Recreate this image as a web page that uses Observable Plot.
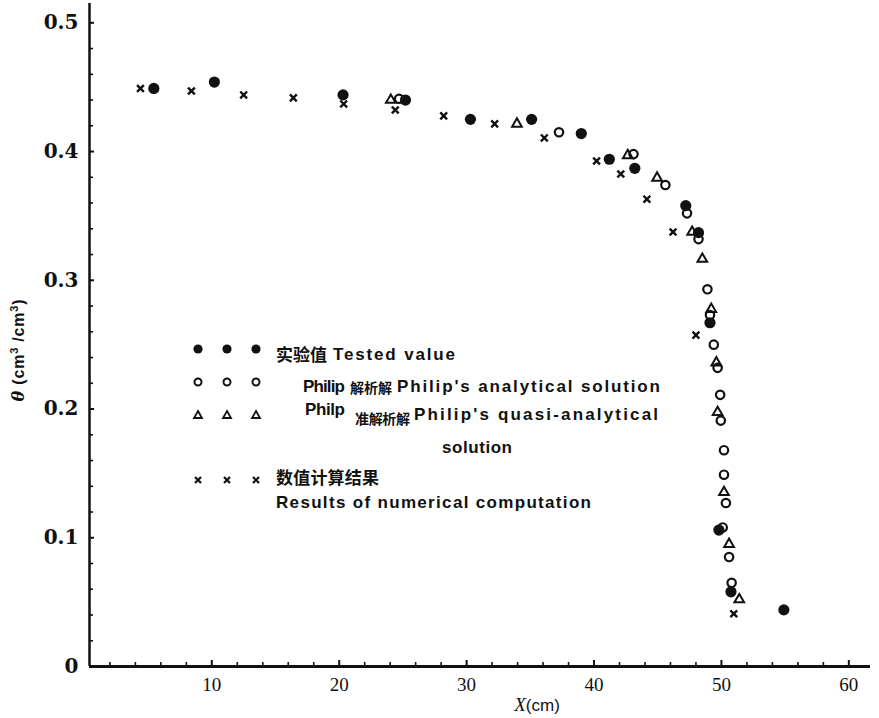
<!DOCTYPE html>
<html><head><meta charset="utf-8">
<script src="https://cdn.jsdelivr.net/npm/d3@7"></script>
<script src="https://cdn.jsdelivr.net/npm/@observablehq/plot@0.6"></script>
<style>
body{margin:0;background:#fff;}
#wrap{width:879px;height:718px;}
</style></head><body><div id="wrap"></div>
<script>
// Tested value (filled circles)
const testedX = [5.45, 10.2, 20.3, 25.2, 30.3, 35.1, 39.0, 41.2, 43.2, 47.2, 48.2, 49.1, 49.8, 50.75, 54.9];
const testedTheta = [0.449, 0.454, 0.444, 0.440, 0.425, 0.425, 0.414, 0.394, 0.387, 0.358, 0.337, 0.267, 0.106, 0.058, 0.044];
// Philip's analytical solution (open circles)
const analyticX = [24.7, 37.25, 43.1, 45.6, 47.3, 48.2, 48.9, 49.1, 49.4, 49.7, 49.9, 49.95, 50.2, 50.2, 50.35, 50.1, 50.6, 50.8];
const analyticTheta = [0.441, 0.415, 0.398, 0.374, 0.352, 0.332, 0.293, 0.273, 0.250, 0.232, 0.211, 0.191, 0.168, 0.149, 0.127, 0.108, 0.085, 0.065];
// Philip's quasi-analytical solution (triangles)
const quasiX = [24.05, 33.95, 42.65, 44.95, 47.7, 48.5, 49.2, 49.6, 49.7, 50.2, 50.6, 51.4];
const quasiTheta = [0.440, 0.4215, 0.397, 0.3795, 0.3375, 0.3165, 0.2776, 0.236, 0.1975, 0.1353, 0.095, 0.052];
// Results of numerical computation (crosses)
const numericX = [4.4, 8.4, 12.5, 16.4, 20.35, 24.4, 28.2, 32.2, 36.1, 40.2, 42.1, 44.15, 46.2, 48.0, 50.97];
const numericTheta = [0.449, 0.447, 0.444, 0.4417, 0.437, 0.4323, 0.4277, 0.4215, 0.4106, 0.3927, 0.3826, 0.363, 0.3375, 0.2574, 0.041];

const xDomain = [0.4, 61.7];
const yDomain = [0, 0.515];
const xMajor = [10, 20, 30, 40, 50, 60];
const xMinor = d3.range(2, 62, 2).filter(v => v % 10 !== 0);
const yMajor = [0, 0.1, 0.2, 0.3, 0.4, 0.5];
const yLabels = ["0", "0.1", "0.2", "0.3", "0.4", "0.5"];
const yMinor = d3.range(0.02, 0.51, 0.02).filter(v => Math.abs(v * 10 - Math.round(v * 10)) > 1e-6);

const W = 879, H = 718, mL = 89, mR = 9, mT = 3, mB = 52;
const pW = W - mL - mR, pH = H - mT - mB;

const toRows = (xs, ys) => xs.map((x, i) => ({x, y: ys[i]}));

const plot = Plot.plot({
  width: W, height: H,
  marginLeft: mL, marginRight: mR, marginTop: mT, marginBottom: mB,
  style: {background: "#fff", color: "#111"},
  x: {domain: xDomain},
  y: {domain: yDomain},
  marks: [
    Plot.axisX(xMajor, {tickSize: 0, tickPadding: 11, label: null, fontSize: 19,
      fontFamily: "Liberation Serif", fill: "#111"}),
    Plot.axisY(yMajor, {tickSize: 0, tickPadding: 11, label: null, fontSize: 20, fontWeight: "bold",
      fontFamily: "DejaVu Serif", fill: "#111", tickFormat: (d, i) => yLabels[i]}),
    Plot.tickX(xMinor, {x: d => d, insetTop: pH - 4, stroke: "#111", strokeWidth: 1.6}),
    Plot.tickX(xMajor, {x: d => d, insetTop: pH - 6, stroke: "#111", strokeWidth: 2}),
    Plot.tickY(yMinor, {y: d => d, insetRight: pW - 4, stroke: "#111", strokeWidth: 1.6}),
    Plot.tickY(yMajor, {y: d => d, insetRight: pW - 5, stroke: "#111", strokeWidth: 2}),
    Plot.ruleY([yDomain[0]], {stroke: "#111", strokeWidth: 2.8}),
    Plot.ruleX([xDomain[0]], {stroke: "#111", strokeWidth: 2.5}),
    Plot.dot(toRows(numericX, numericTheta), {x: "x", y: "y", symbol: "times", r: 3.2, stroke: "#111", strokeWidth: 2.4}),
    Plot.dot(toRows(quasiX, quasiTheta), {x: "x", y: "y", symbol: "triangle", r: 3.6, stroke: "#111", strokeWidth: 2, fill: "none"}),
    Plot.dot(toRows(analyticX, analyticTheta), {x: "x", y: "y", symbol: "circle", r: 4.2, stroke: "#111", strokeWidth: 2.2, fill: "none"}),
    Plot.dot(toRows(testedX, testedTheta), {x: "x", y: "y", symbol: "circle", r: 5.6, fill: "#111", stroke: "none"})
  ]
});
document.getElementById("wrap").appendChild(plot);

// Axis titles and legend (layout overlay)
const svg = d3.select(plot);
const sans = "'Liberation Sans', 'Noto Sans CJK SC', sans-serif";
const yt = svg.append("text").attr("transform", "translate(24,350) rotate(-90)")
  .attr("text-anchor", "middle").attr("font-family", sans).attr("font-weight", "bold")
  .attr("font-size", 16).attr("letter-spacing", "0.8px").attr("fill", "#111");
yt.append("tspan").attr("font-style", "italic").attr("font-family", "DejaVu Serif").text("θ");
yt.append("tspan").text(" (cm");
yt.append("tspan").attr("dy", -6).attr("font-size", 11).text("3");
yt.append("tspan").attr("dy", 6).text(" /cm");
yt.append("tspan").attr("dy", -6).attr("font-size", 11).text("3");
yt.append("tspan").attr("dy", 6).text(")");

const xt = svg.append("text").attr("x", 537).attr("y", 711).attr("text-anchor", "middle")
  .attr("font-family", sans).attr("font-size", 17).attr("fill", "#111");
xt.append("tspan").attr("font-style", "italic").attr("font-family", "Liberation Serif").attr("font-size", 19).text("X");
xt.append("tspan").text("(cm)");

const lg = svg.append("g").attr("fill", "#111");
const symX = [198, 227, 256];
const rowsY = [349, 382, 415, 480];
symX.forEach(x => {
  lg.append("circle").attr("cx", x).attr("cy", rowsY[0]).attr("r", 4.6).attr("fill", "#111");
  lg.append("circle").attr("cx", x).attr("cy", rowsY[1]).attr("r", 3.5).attr("fill", "none").attr("stroke", "#111").attr("stroke-width", 2);
  lg.append("path").attr("d", `M${x},${rowsY[2]-4}L${x+4},${rowsY[2]+3}L${x-4},${rowsY[2]+3}Z`).attr("fill", "none").attr("stroke", "#111").attr("stroke-width", 1.8);
  lg.append("path").attr("d", `M${x-3},${rowsY[3]-3}L${x+3},${rowsY[3]+3}M${x+3},${rowsY[3]-3}L${x-3},${rowsY[3]+3}`).attr("stroke", "#111").attr("stroke-width", 2.2);
});
// legend text segments: start x, baseline y, width, font size
const legendTexts = [
  {x: 276, y: 361, w: 51, s: 17, t: "实验值"},
  {x: 333, y: 360, w: 122, s: 17, t: "Tested value"},
  {x: 303, y: 392, w: 42, s: 17, t: "Philip"},
  {x: 350, y: 393, w: 42, s: 14, t: "解析解"},
  {x: 397, y: 392, w: 263, s: 17, t: "Philip's analytical solution"},
  {x: 305, y: 415, w: 40, s: 17, t: "Philp"},
  {x: 355, y: 424, w: 55, s: 14, t: "准解析解"},
  {x: 414, y: 420, w: 244, s: 17, t: "Philip's quasi-analytical"},
  {x: 442, y: 453, w: 70, s: 17, t: "solution"},
  {x: 276, y: 484, w: 103, s: 17, t: "数值计算结果"},
  {x: 276, y: 508, w: 315, s: 17, t: "Results of numerical computation"}
];
legendTexts.forEach(d => {
  lg.append("text").attr("x", d.x).attr("y", d.y).attr("text-anchor", "start")
    .attr("font-family", sans).attr("font-weight", "bold")
    .attr("font-size", d.s).attr("textLength", d.w).attr("lengthAdjust", "spacing").text(d.t);
});
</script>
</body></html>
